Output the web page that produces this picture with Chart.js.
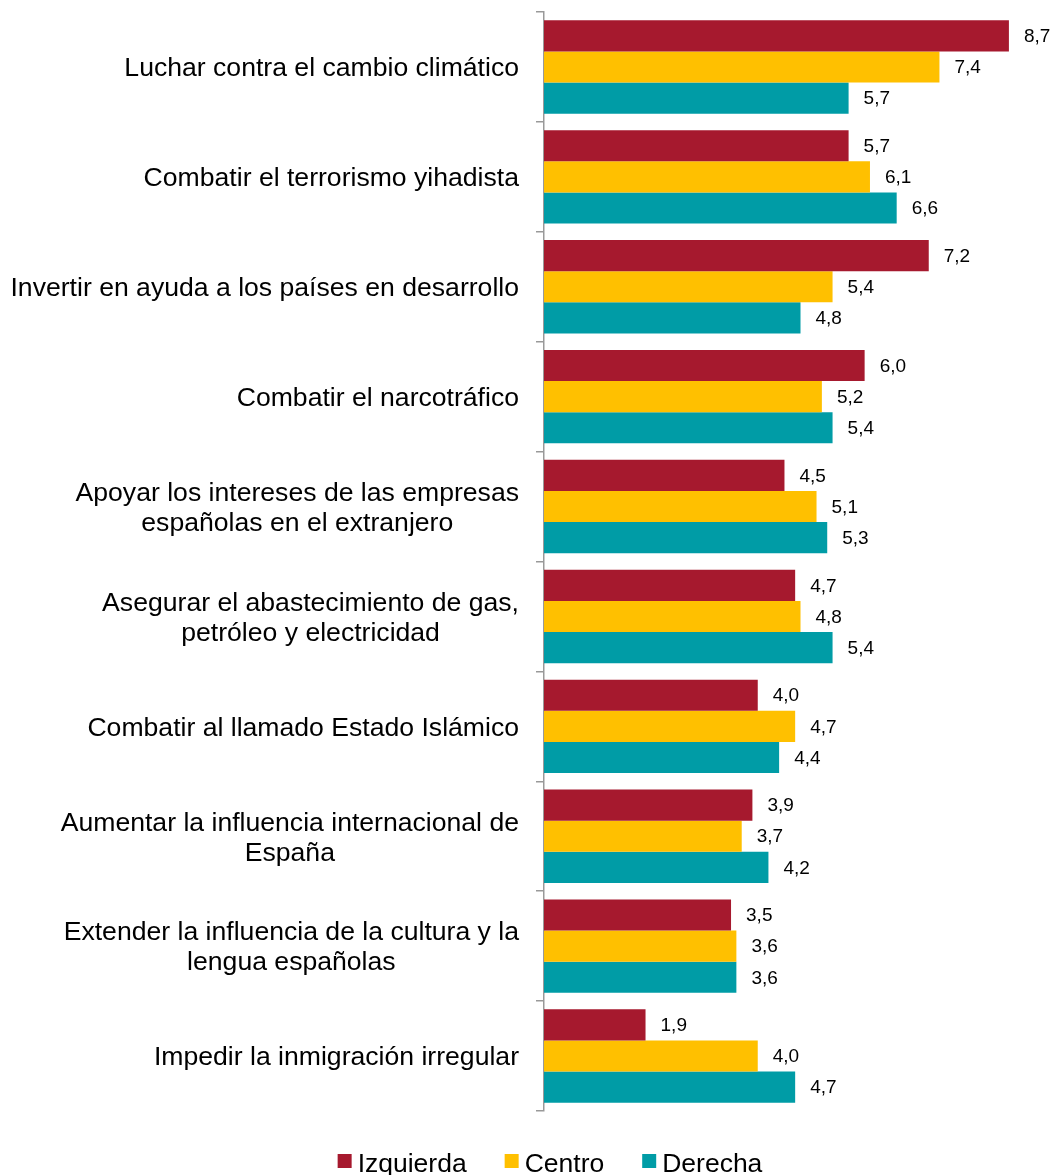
<!DOCTYPE html>
<html><head><meta charset="utf-8">
<script src="https://cdn.jsdelivr.net/npm/chart.js@4/dist/chart.umd.min.js"></script>
<style>html,body{margin:0;padding:0;background:#fff}#wrap{width:1057px;height:1175px;position:relative}</style>
</head><body><div id="wrap"><canvas id="c"></canvas></div>
<script>
const categories = [
  "Luchar contra el cambio climático",
  "Combatir el terrorismo yihadista",
  "Invertir en ayuda a los países en desarrollo",
  "Combatir el narcotráfico",
  ["Apoyar los intereses de las empresas", "españolas en el extranjero"],
  ["Asegurar el abastecimiento de gas,", "petróleo y electricidad"],
  "Combatir al llamado Estado Islámico",
  ["Aumentar la influencia internacional de", "España"],
  ["Extender la influencia de la cultura y la", "lengua españolas"],
  "Impedir la inmigración irregular"
];
const izquierda = [8.7, 5.7, 7.2, 6.0, 4.5, 4.7, 4.0, 3.9, 3.5, 1.9];
const centro    = [7.4, 6.1, 5.4, 5.2, 5.1, 4.8, 4.7, 3.7, 3.6, 4.0];
const derecha   = [5.7, 6.6, 4.8, 5.4, 5.3, 5.4, 4.4, 4.2, 3.6, 4.7];
const seriesNames = ["Izquierda", "Centro", "Derecha"];
const colors = ["#A6192E", "#FFC000", "#009CA6"];

const FONT = '"Liberation Sans", Arial, sans-serif';

const labelsAndValues = {
  id: 'labelsAndValues',
  afterDatasetsDraw(chart) {
    const ctx = chart.ctx;
    ctx.save();
    // value labels
    ctx.font = '19px ' + FONT;
    ctx.fillStyle = '#000';
    ctx.textAlign = 'left';
    ctx.textBaseline = 'middle';
    chart.data.datasets.forEach((ds, i) => {
      chart.getDatasetMeta(i).data.forEach((bar, j) => {
        ctx.fillText(ds.data[j].toFixed(1).replace('.', ','), bar.x + 15, bar.y + 1);
      });
    });
    // category labels: block right-aligned, lines centered
    const yScale = chart.scales.y;
    ctx.font = '26.6px ' + FONT;
    ctx.textAlign = 'center';
    const rightEdge = 519, lineH = 30;
    categories.forEach((lab, i) => {
      const lines = Array.isArray(lab) ? lab : [lab];
      const maxW = Math.max(...lines.map(l => ctx.measureText(l).width));
      const cx = rightEdge - maxW / 2;
      const cy = yScale.getPixelForValue(i) + 2;
      lines.forEach((l, k) => {
        ctx.fillText(l, cx, cy + (k - (lines.length - 1) / 2) * lineH);
      });
    });
    // legend
    ctx.font = '26.5px ' + FONT;
    ctx.textAlign = 'left';
    ctx.textBaseline = 'alphabetic';
    const box = 14, gapBT = 6, gapItem = 38;
    const widths = seriesNames.map(n => ctx.measureText(n).width);
    const total = widths.reduce((a, w) => a + box + gapBT + w, 0) + gapItem * (seriesNames.length - 1);
    let x = 550 - total / 2;
    const baseY = 1172;
    seriesNames.forEach((n, i) => {
      ctx.fillStyle = colors[i];
      ctx.fillRect(x, 1154, box, box);
      ctx.fillStyle = '#000';
      ctx.fillText(n, x + box + gapBT, baseY);
      x += box + gapBT + widths[i] + gapItem;
    });
    ctx.restore();
  }
};

new Chart(document.getElementById('c'), {
  type: 'bar',
  data: {
    labels: categories,
    datasets: [izquierda, centro, derecha].map((d, i) => ({
      label: seriesNames[i],
      data: d,
      backgroundColor: colors[i],
      borderWidth: 0,
      categoryPercentage: 0.85,
      barPercentage: 1.0
    }))
  },
  options: {
    indexAxis: 'y',
    responsive: true,
    maintainAspectRatio: false,
    animation: false,
    layout: { padding: { top: 12, right: 0, left: 0, bottom: 64 } },
    scales: {
      x: { display: false, min: 0, max: 9.6 },
      y: {
        afterFit(scale) { scale.width = 544; scale.paddingTop = 0; scale.paddingBottom = 0; },
        border: { display: true, color: '#999999', width: 1.5 },
        grid: { offset: true, drawOnChartArea: false, tickLength: 8, color: '#999999', lineWidth: 1.5 },
        ticks: {
          callback: () => '',
          padding: 0
        }
      }
    },
    plugins: {
      legend: { display: false },
      tooltip: { enabled: false }
    }
  },
  plugins: [labelsAndValues]
});
</script></body></html>
